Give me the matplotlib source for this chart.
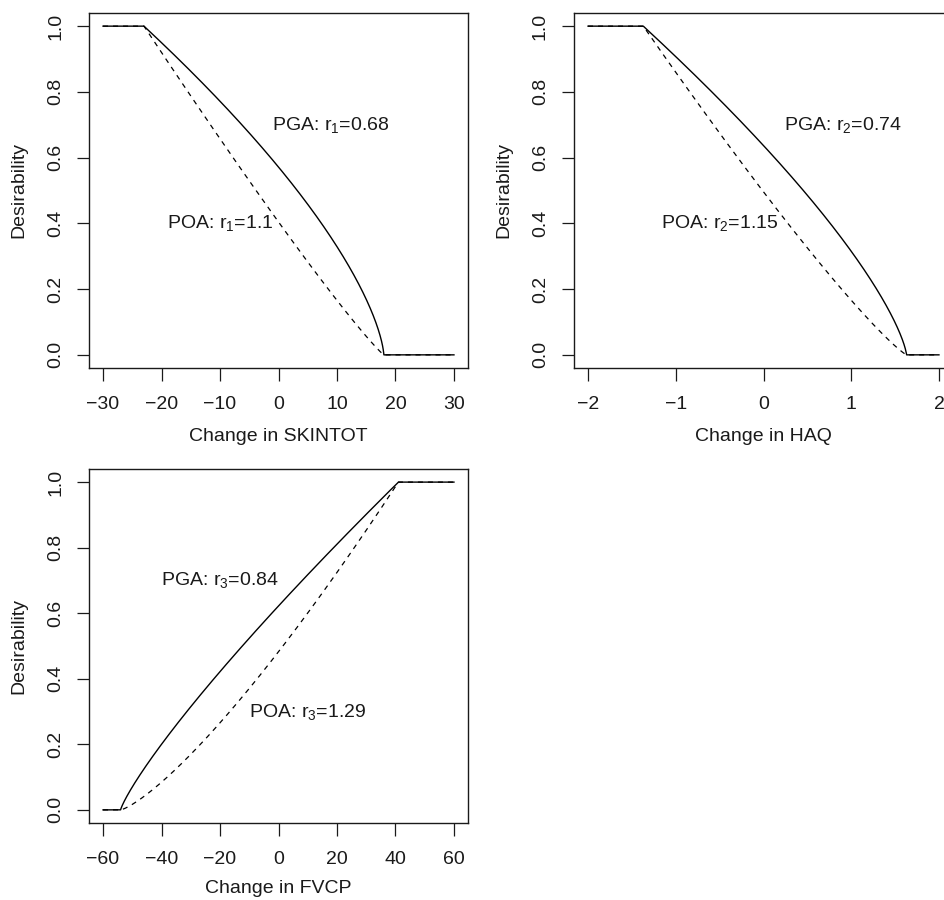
import numpy as np
import matplotlib
matplotlib.use("Agg")
import matplotlib.pyplot as plt

plt.rcParams['font.family'] = ['Liberation Sans', 'DejaVu Sans']
plt.rcParams['mathtext.fontset'] = 'custom'
plt.rcParams['mathtext.rm'] = 'Liberation Sans'
plt.rcParams['mathtext.it'] = 'Liberation Sans'
plt.rcParams['mathtext.default'] = 'regular'

# ---- data ----
xlabels = ["Change in SKINTOT", "Change in HAQ", "Change in FVCP"]
x_ranges = [(-30, 30), (-2, 2), (-60, 60)]
x_ticks = [[-30, -20, -10, 0, 10, 20, 30], [-2, -1, 0, 1, 2], [-60, -40, -20, 0, 20, 40, 60]]
# desirability bounds: (value where d=1, value where d=0)
d_one = [-23, -1.37, 41]
d_zero = [18, 1.63, -54]
r_pga = [0.68, 0.74, 0.84]
r_poa = [1.1, 1.15, 1.29]
pga_text_pos = [(9, 0.70), (0.9, 0.70), (-20, 0.70)]
poa_text_pos = [(-10, 0.40), (-0.5, 0.40), (10, 0.30)]
y_ticks = [0.0, 0.2, 0.4, 0.6, 0.8, 1.0]

W, H = 944, 900
fig = plt.figure(figsize=(W / 100, H / 100), dpi=100)

boxes = [(89, 13, 468, 368), (574, 13, 953, 368), (89, 469, 468, 823)]
xpads = [11, 11, 11.5]
xlabelpads = [11, 11, 8]
TXT = '#1a1a1a'
FS = 14

def desir(x, one, zero, r):
    t = (x - zero) / (one - zero)
    t = np.clip(t, 0, 1)
    return t ** r

for i in range(3):
    l, t, rgt, b = boxes[i]
    ax = fig.add_axes([l / W, 1 - b / H, (rgt - l) / W, (b - t) / H])
    lo, hi = x_ranges[i]
    span = hi - lo
    x = np.unique(np.concatenate([np.linspace(lo, hi, 2000), [d_one[i], d_zero[i]]]))
    ax.plot(x, desir(x, d_one[i], d_zero[i], r_pga[i]), color='black', lw=1.0)
    ax.plot(x, desir(x, d_one[i], d_zero[i], r_poa[i]), color='black', lw=0.9, dashes=(4, 4))
    ax.set_xlim(lo - 0.04 * span, hi + 0.04 * span)
    ax.set_ylim(-0.04, 1.04)
    ax.set_xticks(x_ticks[i])
    ax.set_xticklabels([("\u2212" + str(abs(v))) if v < 0 else str(v) for v in x_ticks[i]])
    ax.set_yticks(y_ticks)
    ax.set_yticklabels(["%.1f" % v for v in y_ticks], rotation=90, va='center')
    ax.tick_params(direction='out', length=9, width=0.9, labelsize=FS, colors=TXT)
    ax.tick_params(axis='x', pad=xpads[i])
    ax.tick_params(axis='y', pad=9)
    for s in ax.spines.values():
        s.set_linewidth(1.0)
        s.set_color(TXT)
    ax.set_xlabel(xlabels[i], fontsize=FS, labelpad=xlabelpads[i], color=TXT)
    ax.set_ylabel("Desirability", fontsize=FS, labelpad=14, color=TXT)
    k = i + 1
    ax.text(pga_text_pos[i][0], pga_text_pos[i][1], "PGA: r$_{%d}$=%s" % (k, r_pga[i]),
            ha='center', va='center', fontsize=FS, color=TXT)
    ax.text(poa_text_pos[i][0], poa_text_pos[i][1], "POA: r$_{%d}$=%s" % (k, r_poa[i]),
            ha='center', va='center', fontsize=FS, color=TXT)

fig.savefig("out.png", dpi=100)
